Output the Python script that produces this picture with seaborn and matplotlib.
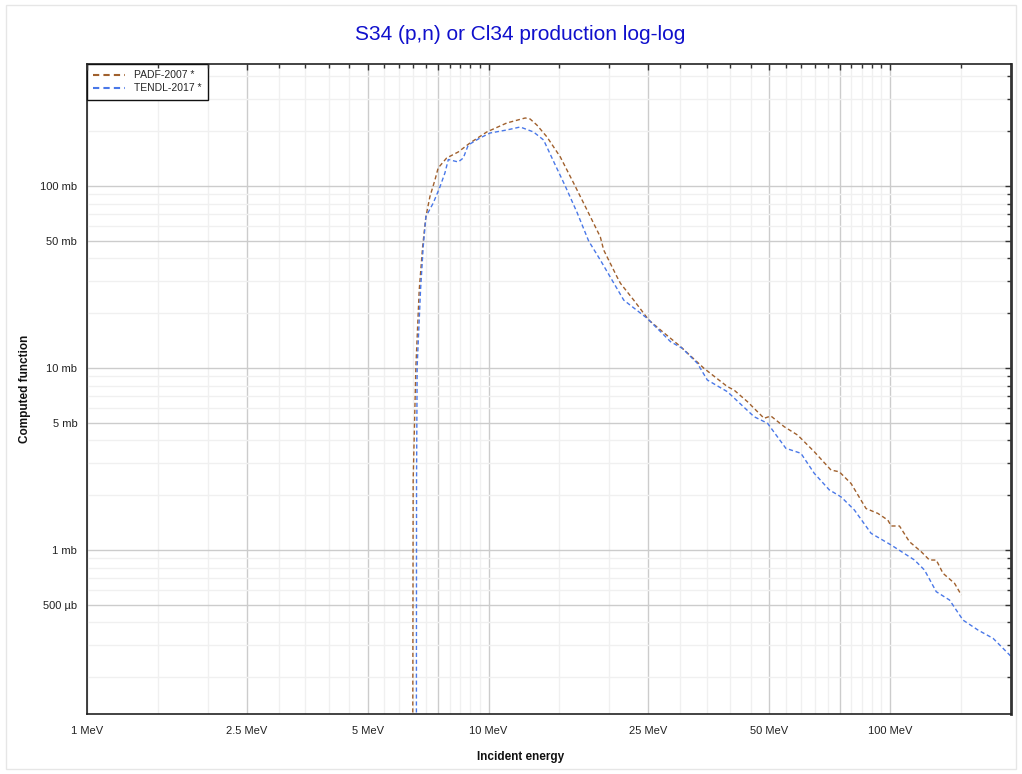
import numpy as np
import pandas as pd
import matplotlib
matplotlib.use("Agg")
import matplotlib.pyplot as plt
import matplotlib.ticker as mticker
from matplotlib.patches import Rectangle
import seaborn as sns

# ---------------- data (energy in MeV, cross section in mb) ----------------
padf_energy = [6.452, 6.490, 6.592, 6.719, 6.852, 6.982, 7.144, 7.353, 7.49, 7.864,
               8.405, 8.99, 9.90, 11.10, 12.34, 12.69, 13.19, 13.98, 15.09, 16.28,
               17.59, 18.98, 19.35, 20.90, 21.30, 22.99, 25.06, 26.80, 30.08, 34.39,
               39.33, 40.85, 44.13, 48.55, 50.46, 54.47, 58.84, 64.71, 71.25, 74.72,
               79.93, 87.10, 93.17, 98.70, 100.6, 105.5, 111.7, 119.5, 125.3, 130.3,
               135.4, 144.7, 150.4]
padf_xs = [0.001, 2.42, 10.17, 26.8, 46.4, 67.9, 87.4, 107.9, 125.6, 142.5,
           153.8, 172.3, 198.1, 221.9, 236.4, 233.4, 216.3, 185.9, 144.3, 103.9,
           73.8, 52.5, 44.5, 31.6, 29.2, 23.6, 18.35, 16.18, 13.10, 9.96,
           7.90, 7.57, 6.53, 5.29, 5.45, 4.76, 4.28, 3.47, 2.75, 2.69,
           2.32, 1.69, 1.59, 1.46, 1.355, 1.355, 1.111, 0.979, 0.881, 0.881,
           0.745, 0.656, 0.566]

tendl_energy = [6.602, 6.617, 6.64, 6.77, 6.875, 6.982, 7.282, 7.565, 7.786, 7.94,
                8.405, 8.65, 8.903, 9.52, 10.09, 11.10, 11.99, 12.94, 13.71, 14.66,
                15.52, 16.63, 17.75, 18.98, 21.71, 24.83, 28.39, 30.37, 33.11, 35.06,
                39.33, 45.84, 49.51, 55.0, 59.95, 64.71, 70.55, 75.45, 81.45, 89.66,
                100.6, 115.0, 121.8, 130.3, 140.6, 151.9, 165.6, 180.5, 200.5]
tendl_xs = [0.001, 2.42, 10.17, 26.8, 46.4, 67.9, 80.6, 98.7, 117.9, 139.8,
            135.5, 142.5, 168.0, 183.5, 195.5, 203.1, 210.9, 198.1, 178.9, 130.4,
            100.0, 71.1, 49.9, 39.2, 23.6, 18.75, 13.95, 12.83, 10.61, 8.59,
            7.41, 5.40, 4.97, 3.62, 3.40, 2.64, 2.14, 1.96, 1.66, 1.235,
            1.065, 0.881, 0.776, 0.590, 0.531, 0.412, 0.363, 0.327, 0.259]

series_names = ["PADF-2007 *", "TENDL-2017 *"]
series_colors = ["#A0602D", "#4A78E8"]

x_major = [1, 2.5, 5, 7.5, 10, 25, 50, 75, 100]
x_major_labels = ["1 MeV", "2.5 MeV", "5 MeV", "", "10 MeV", "25 MeV", "50 MeV", "", "100 MeV"]
x_minor = [1.5, 2, 3, 3.5, 4, 4.5, 5.5, 6, 6.5, 7, 8, 8.5, 9, 9.5, 15, 20,
           30, 35, 40, 45, 55, 60, 65, 70, 80, 85, 90, 95, 150]
y_major = [0.5, 1, 5, 10, 50, 100]
y_major_labels = ["500 µb", "1 mb", "5 mb", "10 mb", "50 mb", "100 mb"]
y_minor = [0.2, 0.3, 0.4, 0.6, 0.7, 0.8, 0.9, 2, 3, 4, 6, 7, 8, 9,
           20, 30, 40, 60, 70, 80, 90, 200, 300, 400]

# ---------------- figure ----------------
sns.set_theme(style="white")
plt.rcParams["font.family"] = ["Liberation Sans", "DejaVu Sans"]

fig = plt.figure(figsize=(10.22, 7.74), dpi=100)
pos = [87 / 1022, 1 - 714 / 774, (1011 - 87) / 1022, (714 - 64) / 774]
ax = fig.add_axes(pos)

df = pd.concat([
    pd.DataFrame({"energy": padf_energy, "xs": padf_xs, "series": series_names[0]}),
    pd.DataFrame({"energy": tendl_energy, "xs": tendl_xs, "series": series_names[1]}),
])

for name, col in zip(series_names, series_colors):
    sub = df[df["series"] == name]
    sns.lineplot(data=sub, x="energy", y="xs", ax=ax, color=col, lw=1.0,
                 estimator=None, sort=False, label=name, dashes=False)
for line in ax.get_lines():
    line.set_dashes((3, 2))

ax.set_xscale("log")
ax.set_yscale("log")
ax.set_xlim(1, 200)
ax.set_ylim(0.1256, 468)

ax.xaxis.set_major_locator(mticker.FixedLocator(x_major))
ax.xaxis.set_major_formatter(mticker.FixedFormatter(x_major_labels))
ax.xaxis.set_minor_locator(mticker.FixedLocator(x_minor))
ax.xaxis.set_minor_formatter(mticker.NullFormatter())
ax.yaxis.set_major_locator(mticker.FixedLocator(y_major))
ax.yaxis.set_major_formatter(mticker.FixedFormatter(y_major_labels))
ax.yaxis.set_minor_locator(mticker.FixedLocator(y_minor))
ax.yaxis.set_minor_formatter(mticker.NullFormatter())

ax.grid(True, which="major", color="#cccccc", lw=1.0)
ax.grid(True, which="minor", color="#f0f0f0", lw=1.0)
ax.set_axisbelow(True)

ax.tick_params(axis="both", which="major", labelsize=8, colors="#222222",
               labelcolor="#222222", length=8, width=1.0, direction="inout")
ax.tick_params(axis="both", which="minor", length=4, width=1.0, direction="in",
               colors="#333333")
ax.tick_params(axis="x", which="major", pad=5)
ax.tick_params(axis="y", which="major", pad=3)

for s in ["left", "bottom", "top"]:
    ax.spines[s].set_color("#222222")
    ax.spines[s].set_linewidth(1.2)
ax.spines["right"].set_color("#333333")
ax.spines["right"].set_linewidth(2.0)

ax.set_xlabel("")
ax.set_ylabel("")

# inward ticks on the top and right edges
axt = fig.add_axes(pos, sharex=ax, sharey=ax, frameon=False)
axt.patch.set_visible(False)
axt.tick_params(axis="both", which="both", left=False, bottom=False, top=True,
                right=True, labelleft=False, labelbottom=False, labeltop=False,
                labelright=False, direction="in", colors="#333333", width=1.0)
axt.tick_params(axis="both", which="major", length=4)
axt.tick_params(axis="both", which="minor", length=3)
axt.grid(False)

fig.text(521 / 1022, 1 - 757 / 774, "Incident energy", ha="center", va="center",
         fontsize=8.5, fontweight="bold", color="#111111")
fig.text(25 / 1022, 1 - 389 / 774, "Computed function", ha="center", va="center",
         rotation=90, fontsize=8.5, fontweight="bold", color="#111111")
fig.text(520 / 1022, 1 - 35 / 774, "S34 (p,n) or Cl34 production log-log",
         ha="center", va="center", fontsize=15, color="#1010CC")

leg = ax.legend(loc="upper left", borderaxespad=0, fontsize=7.5, frameon=True,
                fancybox=False, edgecolor="#111111", framealpha=1,
                handlelength=3, handletextpad=0.9, borderpad=0.6, labelspacing=0.3)
leg.get_frame().set_linewidth(1.0)
leg.set_zorder(10)
for h in leg.get_lines():
    h.set_dashes((3, 2))
    h.set_linewidth(1.5)

fig.patches.append(Rectangle((6 / 1022, 5 / 774), 1010 / 1022, 764 / 774,
                             transform=fig.transFigure, fill=False,
                             edgecolor="#e6e6e6", lw=1.0))

fig.savefig("out.png", dpi=100)
